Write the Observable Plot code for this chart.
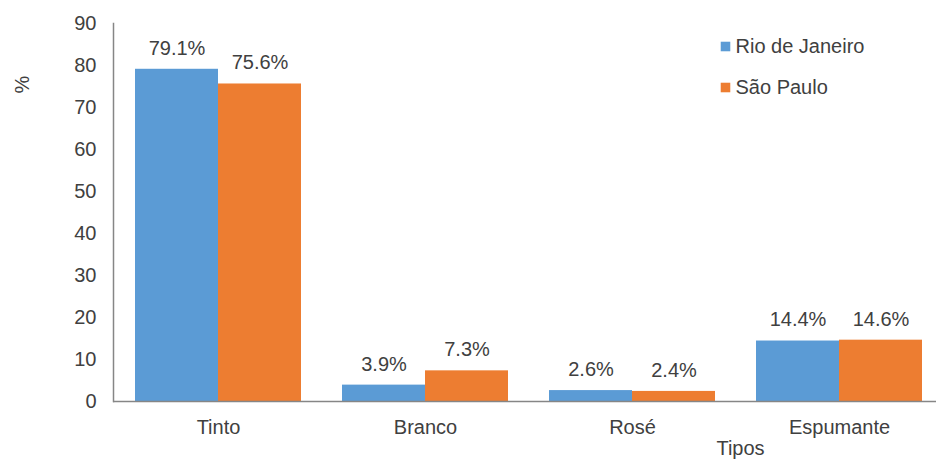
<!DOCTYPE html>
<html>
<head>
<meta charset="utf-8">
<script src="https://cdn.jsdelivr.net/npm/d3@7"></script>
<script src="https://cdn.jsdelivr.net/npm/@observablehq/plot@0.6"></script>
<style>
  html, body { margin: 0; padding: 0; background: #fff; }
  #chart svg { display: block; }
</style>
</head>
<body>
<div id="chart"></div>
<script>
const categories = ["Tinto", "Branco", "Rosé", "Espumante"];
const series = ["Rio de Janeiro", "São Paulo"];
const rioValues = [79.1, 3.9, 2.6, 14.4];
const spValues = [75.6, 7.3, 2.4, 14.6];
const yTicks = [0, 10, 20, 30, 40, 50, 60, 70, 80, 90];
const colors = ["#5B9BD5", "#ED7D31"];

const rio = categories.map((c, i) => ({cat: c, series: series[0], v: rioValues[i]}));
const sp = categories.map((c, i) => ({cat: c, series: series[1], v: spValues[i]}));

const font = "'Liberation Sans', Arial, sans-serif";
const textColor = "#404040";
const half = 83;

const chart = Plot.plot({
  width: 936,
  height: 459,
  marginTop: 23,
  marginBottom: 58,
  marginLeft: 113,
  marginRight: 0,
  style: {fontFamily: font, fontSize: "20px", color: textColor, background: "#fff"},
  x: {domain: categories, range: [113, 943], paddingInner: 0.2, paddingOuter: 0.1, label: null},
  y: {domain: [0, 90], label: null},
  color: {domain: series, range: colors},
  marks: [
    Plot.barY(rio, {x: "cat", y: "v", fill: colors[0], insetRight: half}),
    Plot.barY(sp, {x: "cat", y: "v", fill: colors[1], insetLeft: half}),
    Plot.text(rio, {x: "cat", y: "v", text: d => d.v.toFixed(1) + "%", dx: -41.5, dy: -21, fill: textColor, fontSize: 20}),
    Plot.text(sp, {x: "cat", y: "v", text: d => d.v.toFixed(1) + "%", dx: 41.5, dy: -21, fill: textColor, fontSize: 20}),
    Plot.ruleY([0], {stroke: "#868686", strokeWidth: 1.5}),
    Plot.frame({anchor: "left", stroke: "#868686", strokeWidth: 1.5}),
    Plot.axisY({ticks: yTicks, tickSize: 0, tickPadding: 17, tickFormat: d => String(d), label: null, fill: textColor, fontSize: 20}),
    Plot.axisX({tickSize: 0, tickPadding: 18, label: null, fill: textColor, fontSize: 20}),
    Plot.text(["%"], {frameAnchor: "top-left", dx: -91, dy: 61, rotate: -90, textAnchor: "middle", lineAnchor: "middle", fill: textColor, fontSize: 20}),
    Plot.text(["Tipos"], {frameAnchor: "bottom-left", dx: 627, dy: 47, textAnchor: "middle", lineAnchor: "middle", fill: textColor, fontSize: 20}),
    ...series.map((s, i) => Plot.dot([s], {frameAnchor: "top-left", dx: 612, dy: 23 + i * 41, symbol: "square", r: 5.4, fill: colors[i], stroke: null})),
    ...series.map((s, i) => Plot.text([s], {frameAnchor: "top-left", dx: 622, dy: 23 + i * 41, text: d => d, textAnchor: "start", lineAnchor: "middle", fill: textColor, fontSize: 20}))
  ]
});
document.getElementById("chart").appendChild(chart);
</script>
</body>
</html>
